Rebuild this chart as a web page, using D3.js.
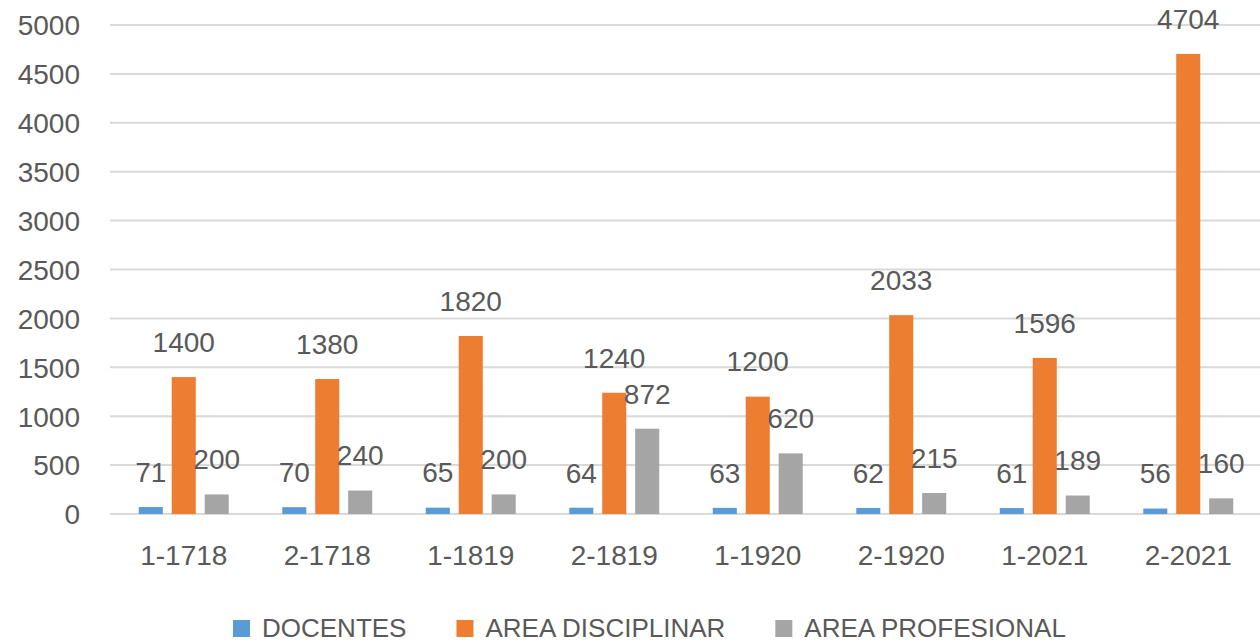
<!DOCTYPE html>
<html>
<head>
<meta charset="utf-8">
<script src="https://cdn.jsdelivr.net/npm/d3@7"></script>
<style>
  body { margin: 0; background: #fff; }
  text { font-family: "Liberation Sans", Arial, sans-serif; fill: #595959; }
</style>
</head>
<body>
<div id="chart"></div>
<script>
// data
var categories = ["1-1718", "2-1718", "1-1819", "2-1819", "1-1920", "2-1920", "1-2021", "2-2021"];
var docentes = [71, 70, 65, 64, 63, 62, 61, 56];
var areaDisciplinar = [1400, 1380, 1820, 1240, 1200, 2033, 1596, 4704];
var areaProfesional = [200, 240, 200, 872, 620, 215, 189, 160];
var seriesNames = ["DOCENTES", "AREA DISCIPLINAR", "AREA PROFESIONAL"];
var yTicks = [0, 500, 1000, 1500, 2000, 2500, 3000, 3500, 4000, 4500, 5000];

var colors = ["#5B9BD5", "#ED7D31", "#A5A5A5"];
var svgWidth = 1260;
var svgHeight = 643;

var margin = { top: 25, right: 0, bottom: 129, left: 112 };
var height = svgHeight - margin.top - margin.bottom;

var svg = d3.select("#chart")
  .append("svg")
  .attr("width", svgWidth)
  .attr("height", svgHeight);

var allSeries = [docentes, areaDisciplinar, areaProfesional];
var rows = categories.map(function(c, i) {
  return { cat: c, vals: allSeries.map(function(s) { return s[i]; }) };
});

var x0 = d3.scaleBand()
  .domain(categories)
  .range([margin.left, svgWidth - margin.right])
  .paddingInner(0.373)
  .paddingOuter(0.1865);

var x1 = d3.scaleBand()
  .domain(d3.range(3))
  .range([0, x0.bandwidth()])
  .paddingInner(0.27)
  .paddingOuter(0);

var y = d3.scaleLinear()
  .domain([0, 5000])
  .range([margin.top + height, margin.top]);

// gridlines
svg.append("g")
  .selectAll("line")
  .data(yTicks)
  .enter()
  .append("line")
  .attr("x1", 110)
  .attr("x2", svgWidth)
  .attr("y1", d => y(d))
  .attr("y2", d => y(d))
  .attr("stroke", "#d9d9d9")
  .attr("stroke-width", 2);

// y axis labels
var leftAxis = d3.axisLeft(y)
  .tickValues(yTicks)
  .tickFormat(d3.format("d"))
  .tickSize(0)
  .tickPadding(0);
var yAxis = svg.append("g")
  .attr("transform", "translate(80,0)")
  .call(leftAxis);
yAxis.select(".domain").remove();
yAxis.selectAll("text")
  .style("font-size", "28px")
  .attr("fill", "#595959")
  .attr("dy", "0.35em");

// x axis labels
var bottomAxis = d3.axisBottom(x0).tickSize(0).tickPadding(0);
var xAxis = svg.append("g")
  .attr("transform", "translate(0,555)")
  .call(bottomAxis);
xAxis.select(".domain").remove();
xAxis.selectAll("text")
  .style("font-size", "28px")
  .attr("fill", "#595959")
  .attr("dy", "0.35em");

// bars
var groups = svg.append("g")
  .selectAll("g")
  .data(rows)
  .enter()
  .append("g")
  .attr("transform", d => `translate(${x0(d.cat)},0)`);

groups.selectAll("rect")
  .data(d => d.vals)
  .enter()
  .append("rect")
  .attr("x", (d, i) => x1(i))
  .attr("width", x1.bandwidth())
  .attr("y", d => y(d))
  .attr("height", d => y(0) - y(d))
  .attr("fill", (d, i) => colors[i]);

// value labels on top of everything
groups.selectAll("text.val")
  .data(d => d.vals)
  .enter()
  .append("text")
  .classed("val", true)
  .attr("x", (d, i) => x1(i) + x1.bandwidth() / 2)
  .attr("y", d => y(d) - 35)
  .attr("dy", "0.35em")
  .attr("text-anchor", "middle")
  .style("font-size", "28px")
  .text(d => d);

// legend
var legend = svg.append("g").attr("transform", "translate(0,628)");
var lx = 233;
seriesNames.forEach(function(name, i) {
  legend.append("rect")
    .attr("x", lx)
    .attr("y", -8)
    .attr("width", 17)
    .attr("height", 17)
    .attr("fill", colors[i]);
  var t = legend.append("text")
    .attr("x", lx + 29)
    .attr("y", 0)
    .attr("dy", "0.35em")
    .style("font-size", "26px")
    .text(name);
  lx += 29 + t.node().getComputedTextLength() + 50;
});
</script>
</body>
</html>
